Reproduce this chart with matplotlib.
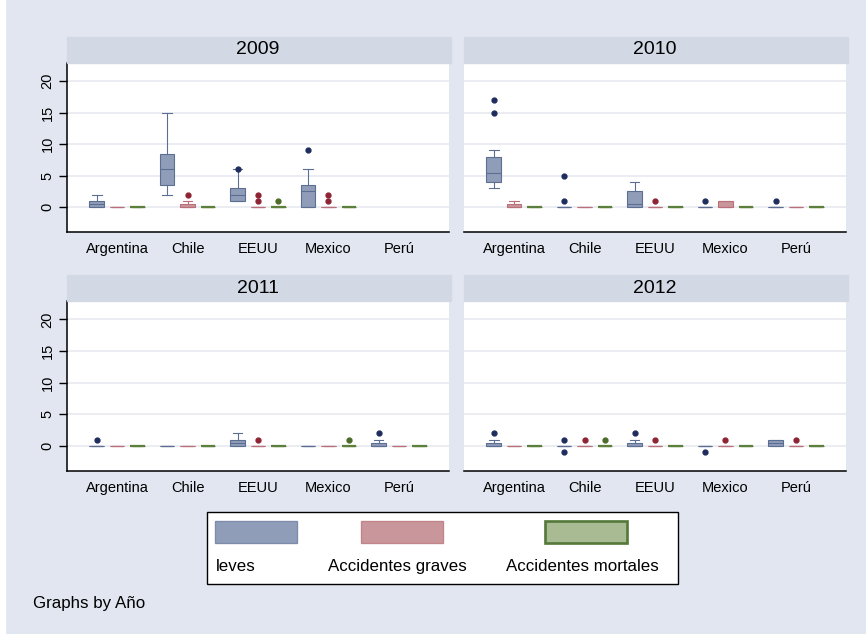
import matplotlib.pyplot as plt
from matplotlib.patches import Rectangle

plt.rcParams['font.family'] = ['Liberation Sans', 'DejaVu Sans']

countries = ["Argentina", "Chile", "EEUU", "Mexico", "Perú"]
years = ["2009", "2010", "2011", "2012"]
series_names = ["leves", "Accidentes graves", "Accidentes mortales"]

# per country: (whislo, q1, med, q3, whishi, outliers); None where a country has no data
leves_2009 = [(0, 0, 0.5, 1, 2, []), (2, 3.5, 6, 8.5, 15, []), (1, 1, 2, 3, 6, [6]),
              (0, 0, 2.5, 3.5, 6, [9]), None]
graves_2009 = [(0, 0, 0, 0, 0, []), (0, 0, 0, 0.5, 1, [2]), (0, 0, 0, 0, 0, [1, 2]),
               (0, 0, 0, 0, 0, [1, 2]), None]
mortales_2009 = [(0, 0, 0, 0, 0, []), (0, 0, 0, 0, 0, []), (0, 0, 0, 0, 0, [1]),
                 (0, 0, 0, 0, 0, []), None]

leves_2010 = [(3, 4, 5.5, 8, 9, [15, 17]), (0, 0, 0, 0, 0, [1, 5]), (0, 0, 0.5, 2.5, 4, []),
              (0, 0, 0, 0, 0, [1]), (0, 0, 0, 0, 0, [1])]
graves_2010 = [(0, 0, 0, 0.5, 1, []), (0, 0, 0, 0, 0, []), (0, 0, 0, 0, 0, [1]),
               (0, 0, 0, 1, 1, []), (0, 0, 0, 0, 0, [])]
mortales_2010 = [(0, 0, 0, 0, 0, []), (0, 0, 0, 0, 0, []), (0, 0, 0, 0, 0, []),
                 (0, 0, 0, 0, 0, []), (0, 0, 0, 0, 0, [])]

leves_2011 = [(0, 0, 0, 0, 0, [1]), (0, 0, 0, 0, 0, []), (0, 0, 0.5, 1, 2, []),
              (0, 0, 0, 0, 0, []), (0, 0, 0, 0.5, 1, [2])]
graves_2011 = [(0, 0, 0, 0, 0, []), (0, 0, 0, 0, 0, []), (0, 0, 0, 0, 0, [1]),
               (0, 0, 0, 0, 0, []), (0, 0, 0, 0, 0, [])]
mortales_2011 = [(0, 0, 0, 0, 0, []), (0, 0, 0, 0, 0, []), (0, 0, 0, 0, 0, []),
                 (0, 0, 0, 0, 0, [1]), (0, 0, 0, 0, 0, [])]

leves_2012 = [(0, 0, 0, 0.5, 1, [2]), (0, 0, 0, 0, 0, [-1, 1]), (0, 0, 0, 0.5, 1, [2]),
              (0, 0, 0, 0, 0, [-1]), (0, 0, 0.5, 1, 1, [])]
graves_2012 = [(0, 0, 0, 0, 0, []), (0, 0, 0, 0, 0, [1]), (0, 0, 0, 0, 0, [1]),
               (0, 0, 0, 0, 0, [1]), (0, 0, 0, 0, 0, [1])]
mortales_2012 = [(0, 0, 0, 0, 0, []), (0, 0, 0, 0, 0, [1]), (0, 0, 0, 0, 0, []),
                 (0, 0, 0, 0, 0, []), (0, 0, 0, 0, 0, [])]

panels = {
    "2009": [leves_2009, graves_2009, mortales_2009],
    "2010": [leves_2010, graves_2010, mortales_2010],
    "2011": [leves_2011, graves_2011, mortales_2011],
    "2012": [leves_2012, graves_2012, mortales_2012],
}

BG = "#e1e6f0"
STRIP = "#d2d9e5"
GRID = "#e7eaf0"
fills = ["#8f9db9", "#c9979b", "#a9bb92"]
edges = ["#5d6e93", "#b9707a", "#5d7f3c"]
dots = ["#1e2d5e", "#8e2333", "#4e6b2c"]
edge_lw = [0.8, 0.8, 1.6]
offsets = [-0.29, 0.0, 0.29]

W, H = 866, 634
fig = plt.figure(figsize=(W / 100, H / 100), dpi=100, facecolor=BG)
fig.add_artist(Rectangle((0, 0), 5 / W, 1, transform=fig.transFigure,
                         color="white", zorder=0))

# pixel boxes (left, top, right, bottom) of each plot region
boxes = {
    "2009": (67, 63, 449, 232),
    "2010": (464, 63, 846, 232),
    "2011": (67, 301, 449, 471),
    "2012": (464, 301, 846, 471),
}
strip_h = 26

for k, year in enumerate(years):
    x0, y0, x1, y1 = boxes[year]
    ax = fig.add_axes([x0 / W, 1 - y1 / H, (x1 - x0) / W, (y1 - y0) / H])
    ax.set_facecolor("white")

    for s, data in enumerate(panels[year]):
        stats, pos = [], []
        for i, row in enumerate(data):
            if row is None:
                continue
            lo, q1, med, q3, hi, out = row
            stats.append(dict(whislo=lo, q1=q1, med=med, q3=q3, whishi=hi, fliers=out))
            pos.append(i + offsets[s])
        ax.bxp(stats, positions=pos, widths=0.21, capwidths=0.14,
               patch_artist=True, manage_ticks=False,
               boxprops=dict(facecolor=fills[s], edgecolor=edges[s], linewidth=edge_lw[s]),
               medianprops=dict(color=edges[s], linewidth=0.8),
               whiskerprops=dict(color=edges[s], linewidth=0.8),
               capprops=dict(color=edges[s], linewidth=0.8),
               flierprops=dict(marker="o", markersize=3.5, markerfacecolor=dots[s],
                               markeredgecolor=dots[s]))

    ax.set_xlim(-0.71, 4.71)
    ax.set_ylim(-3.95, 22.9)
    ax.set_yticks([0, 5, 10, 15, 20])
    ax.set_xticks(range(len(countries)))
    ax.set_xticklabels(countries, fontsize=10.5)
    ax.grid(axis="y", color=GRID, linewidth=1.2)
    ax.set_axisbelow(True)
    ax.tick_params(axis="x", length=0, pad=7)
    for side in ["top", "right"]:
        ax.spines[side].set_visible(False)
    ax.spines["bottom"].set_linewidth(1.1)
    if k % 2 == 0:
        ax.spines["left"].set_linewidth(1.1)
        ax.tick_params(axis="y", length=6, width=1, pad=3, labelsize=10.5)
        for lbl in ax.get_yticklabels():
            lbl.set_rotation(90)
            lbl.set_va("center")
    else:
        ax.spines["left"].set_visible(False)
        ax.tick_params(axis="y", length=0, labelleft=False)

    # year strip above the plot
    fig.add_artist(Rectangle((x0 / W, 1 - y0 / H), (x1 - x0 + 2) / W, strip_h / H,
                             transform=fig.transFigure, color=STRIP))
    fig.text((x0 + x1) / 2 / W, 1 - (y0 - strip_h / 2) / H, year,
             ha="center", va="center", fontsize=14)

# legend box
fig.add_artist(Rectangle((207 / W, 1 - 584 / H), 471 / W, 72 / H, transform=fig.transFigure,
                         facecolor="white", edgecolor="black", linewidth=1.0))
key_x = [215, 361, 545]
text_x = [216, 328, 506]
key_edges = ["#7d8cab", "#c08489", "#55793a"]
for s in range(3):
    fig.add_artist(Rectangle((key_x[s] / W, 1 - 543 / H), 82 / W, 22 / H,
                             transform=fig.transFigure, facecolor=fills[s],
                             edgecolor=key_edges[s], linewidth=edge_lw[s] * 1.2))
    fig.text(text_x[s] / W, 1 - 571 / H, series_names[s], ha="left", va="baseline",
             fontsize=12.2)

fig.text(33 / W, 1 - 608 / H, "Graphs by Año", ha="left", va="baseline", fontsize=12.2)

fig.savefig("out.png", dpi=100, facecolor=BG)
